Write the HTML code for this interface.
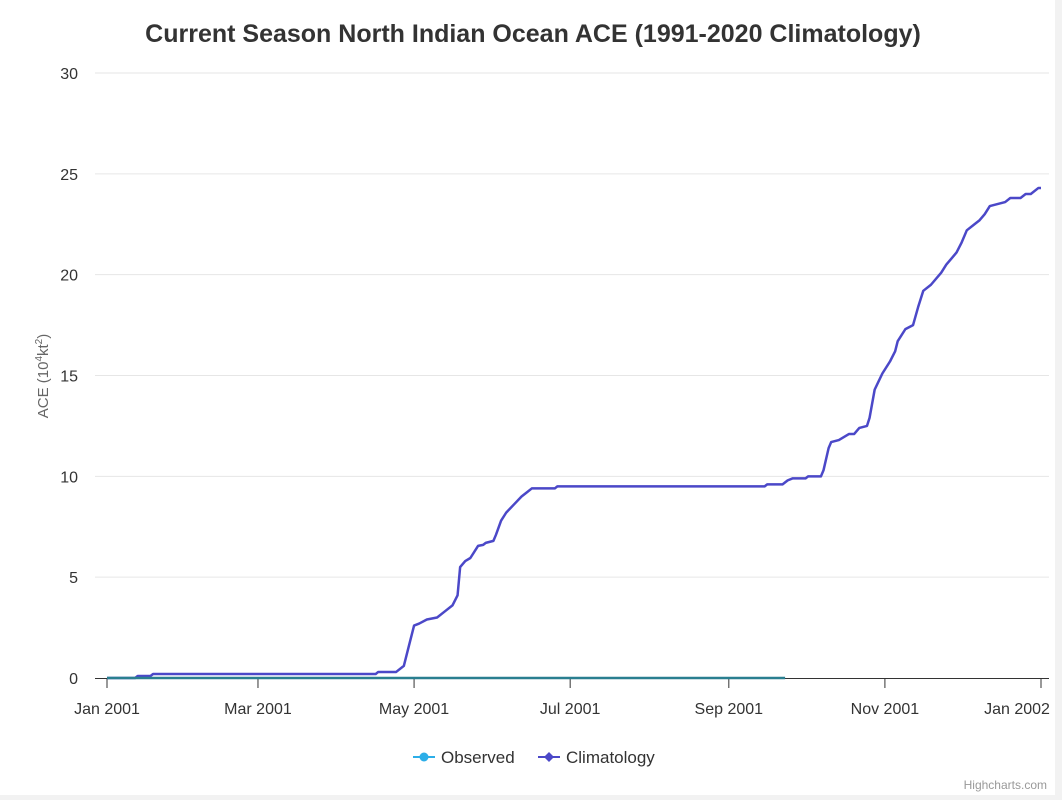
<!DOCTYPE html>
<html><head><meta charset="utf-8"><style>
html,body{margin:0;padding:0;background:#f2f2f2;}
#wrap{position:absolute;left:0;top:0;width:1055px;height:795px;background:#fff;}
svg{overflow:visible;position:absolute;left:0;top:0;}
svg text{font-family:"Liberation Sans",sans-serif;}
</style></head><body>
<div id="wrap">
<svg id="chart" width="1062" height="795"></svg>
</div>
<script>
const obsDays=[0,265];
const obsVals=[0,0];
const climDays=[0,11,12,17,18,105,106,113,116,118,120,122,125,129,132,135,137,138,140,142,145,147,148,151,152,154,156,159,162,164,166,175,176,257,258,264,266,268,273,274,279,280,282,283,286,290,292,294,297,298,300,303,306,308,309,312,315,317,319,322,326,328,330,332,334,336,339,341,343,345,348,351,353,357,359,361,364,365];
const climVals=[0,0,0.1,0.1,0.2,0.2,0.3,0.3,0.6,1.6,2.6,2.7,2.9,3.0,3.3,3.6,4.1,5.5,5.8,5.95,6.55,6.6,6.7,6.8,7.1,7.8,8.2,8.6,9.0,9.2,9.4,9.4,9.5,9.5,9.6,9.6,9.8,9.9,9.9,10.0,10.0,10.3,11.4,11.7,11.8,12.1,12.1,12.4,12.5,12.9,14.3,15.1,15.7,16.2,16.7,17.3,17.5,18.4,19.2,19.5,20.1,20.5,20.8,21.1,21.6,22.2,22.5,22.7,23.0,23.4,23.5,23.6,23.8,23.8,24.0,24.0,24.3,24.3];
const yTicks=[0,5,10,15,20,25,30];
const xTickDays=[0,59,120,181,243,304,365];
const xTickLabels=["Jan 2001","Mar 2001","May 2001","Jul 2001","Sep 2001","Nov 2001","Jan 2002"];

const X0=107,X1=1041,Y0=678,Y1=73;
const xs=d=>X0+(X1-X0)*d/365;
const ys=v=>Y0-(Y0-Y1)*v/30;
const svg=document.getElementById('chart');
const NS='http://www.w3.org/2000/svg';
function mk(tag,attrs,parent){const e=document.createElementNS(NS,tag);for(const k in attrs)e.setAttribute(k,attrs[k]);(parent||svg).appendChild(e);return e;}

let t=mk('text',{x:533,y:42,'text-anchor':'middle','font-size':25,'font-weight':'bold',fill:'#333'});
t.textContent='Current Season North Indian Ocean ACE (1991-2020 Climatology)';



yTicks.forEach(v=>{
  if(v>0){const g=mk('line',{x1:95,x2:X1+8,y1:ys(v),y2:ys(v),stroke:'#e6e6e6','stroke-width':1});
  
  }
  const l=mk('text',{x:78,y:ys(v)+6,'text-anchor':'end','font-size':16,fill:'#333'});
  l.textContent=v;
  
  
});
const yt=mk('text',{transform:'translate(48,376) rotate(-90)','text-anchor':'middle','font-size':15,fill:'#666'});
yt.innerHTML='ACE (10<tspan dy="-6" font-size="10">4</tspan><tspan dy="6">kt</tspan><tspan dy="-6" font-size="10">2</tspan><tspan dy="6">)</tspan>';



const ax=mk('line',{x1:95,x2:X1+8,y1:Y0+0.5,y2:Y0+0.5,stroke:'#333','stroke-width':1});


xTickDays.forEach((d,i)=>{
  const tk=mk('line',{x1:xs(d),x2:xs(d),y1:Y0,y2:Y0+10,stroke:'#333','stroke-width':1});
  
  
  const l=mk('text',{x:xs(d)-(i===6?24:0),y:Y0+36,'text-anchor':'middle','font-size':16,fill:'#333'});
  l.textContent=xTickLabels[i];
  
  
});

const cp=mk('polyline',{points:climDays.map((d,i)=>xs(d)+','+ys(climVals[i])).join(' '),fill:'none',stroke:'#4b48c8','stroke-width':2.5,'stroke-linejoin':'round'});


const op=mk('polyline',{points:obsDays.map((d,i)=>xs(d)+','+ys(obsVals[i])).join(' '),fill:'none',stroke:'#2a7f90','stroke-width':2.5});



const l1=mk('g',{});


mk('line',{x1:413,x2:435,y1:757,y2:757,stroke:'#2caee8','stroke-width':2},l1);
mk('circle',{cx:424,cy:757,r:4.5,fill:'#2caee8'},l1);
let lt=mk('text',{x:441,y:763,'font-size':17,fill:'#333'},l1);lt.textContent='Observed';
const l2=mk('g',{});


mk('line',{x1:538,x2:560,y1:757,y2:757,stroke:'#4b48c8','stroke-width':2},l2);
mk('path',{d:'M549 752 L554 757 L549 762 L544 757 Z',fill:'#4b48c8'},l2);
lt=mk('text',{x:566,y:763,'font-size':17,fill:'#333'},l2);lt.textContent='Climatology';

const cr=mk('text',{x:1047,y:789,'text-anchor':'end','font-size':12,fill:'#999'});
cr.textContent='Highcharts.com';


</script>
</body></html>
